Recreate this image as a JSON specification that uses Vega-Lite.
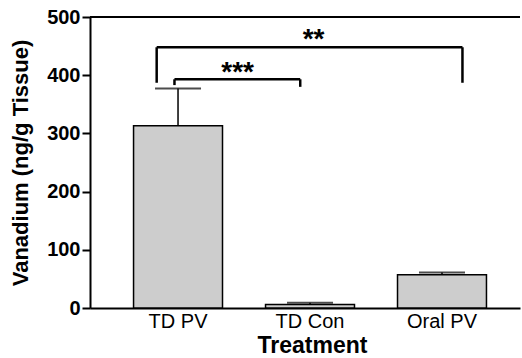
{
  "$schema": "https://vega.github.io/schema/vega-lite/v6.json",
  "autosize": {"type": "none"},
  "width": 430,
  "height": 291,
  "padding": {"left": 90, "top": 17, "right": 2, "bottom": 50},
  "background": "white",
  "config": {
    "view": {"stroke": null},
    "font": "Liberation Sans"
  },
  "datasets": {
    "bars": [
      {"treatment": "TD PV", "mean": 313, "upper": 377},
      {"treatment": "TD Con", "mean": 6, "upper": 9},
      {"treatment": "Oral PV", "mean": 57, "upper": 61}
    ]
  },
  "encoding": {
    "x": {
      "field": "treatment",
      "type": "nominal",
      "scale": {"domain": ["TD PV", "TD Con", "Oral PV"], "paddingInner": 0.326, "paddingOuter": 0.292, "align": 0.565},
      "axis": {
        "title": "Treatment",
        "titleFont": "Liberation Sans",
        "titleFontSize": 23,
        "titleFontWeight": "bold",
        "titleColor": "black",
        "titlePadding": 3,
        "titleX": 222,
        "labelFont": "Liberation Sans",
        "labelFontSize": 20,
        "labelColor": "black",
        "labelAngle": 0,
        "labelPadding": 3,
        "ticks": false,
        "domainColor": "black",
        "domainWidth": 2
      }
    }
  },
  "layer": [
    {
      "data": {"name": "bars"},
      "mark": {"type": "bar", "fill": "#cdcdcd", "stroke": "black", "strokeWidth": 1.5},
      "encoding": {
        "y": {
          "field": "mean",
          "type": "quantitative",
          "scale": {"domain": [0, 500], "nice": false},
          "axis": {
            "title": "Vanadium (ng/g Tissue)",
            "titleFont": "Liberation Sans",
            "titleFontSize": 22,
            "titleFontWeight": "bold",
            "titleColor": "black",
            "titlePadding": 14,
            "labelFont": "Liberation Sans",
            "labelFontSize": 20,
            "labelFontWeight": "bold",
            "labelColor": "black",
            "labelPadding": 2,
            "values": [0, 100, 200, 300, 400, 500],
            "tickSize": 8,
            "tickWidth": 2,
            "tickColor": "black",
            "domainColor": "black",
            "domainWidth": 2,
            "grid": false
          }
        }
      }
    },
    {
      "data": {"name": "bars"},
      "mark": {"type": "rule", "color": "black", "strokeWidth": 1.5},
      "encoding": {
        "y": {"field": "mean", "type": "quantitative"},
        "y2": {"field": "upper"}
      }
    },
    {
      "data": {"name": "bars"},
      "mark": {"type": "tick", "color": "black", "orient": "horizontal", "size": 46, "thickness": 2},
      "encoding": {
        "y": {"field": "upper", "type": "quantitative"}
      }
    },
    {
      "data": {"values": [{"y": 500}]},
      "mark": {"type": "rule", "color": "black", "strokeWidth": 2},
      "encoding": {"y": {"field": "y", "type": "quantitative"}, "x": null}
    },
    {
      "data": {"values": [{"from": "TD PV", "to": "Oral PV", "y": 448}]},
      "mark": {"type": "rule", "color": "black", "strokeWidth": 2.5},
      "encoding": {
        "x": {"field": "from", "type": "nominal", "bandPosition": 0.26},
        "x2": {"field": "to", "bandPosition": 0.73},
        "y": {"field": "y", "type": "quantitative"}
      }
    },
    {
      "data": {"values": [{"from": "TD PV", "to": "TD Con", "y": 393}]},
      "mark": {"type": "rule", "color": "black", "strokeWidth": 2.5},
      "encoding": {
        "x": {"field": "from", "type": "nominal", "bandPosition": 0.46},
        "x2": {"field": "to", "bandPosition": 0.39},
        "y": {"field": "y", "type": "quantitative"}
      }
    },
    {
      "data": {"values": [{"at": "TD PV", "top": 448, "bottom": 387}]},
      "mark": {"type": "rule", "color": "black", "strokeWidth": 2.5},
      "encoding": {
        "x": {"field": "at", "type": "nominal", "bandPosition": 0.26},
        "y": {"field": "top", "type": "quantitative"},
        "y2": {"field": "bottom"}
      }
    },
    {
      "data": {"values": [{"at": "Oral PV", "top": 448, "bottom": 387}]},
      "mark": {"type": "rule", "color": "black", "strokeWidth": 2.5},
      "encoding": {
        "x": {"field": "at", "type": "nominal", "bandPosition": 0.73},
        "y": {"field": "top", "type": "quantitative"},
        "y2": {"field": "bottom"}
      }
    },
    {
      "data": {"values": [{"at": "TD PV", "top": 393, "bottom": 383}]},
      "mark": {"type": "rule", "color": "black", "strokeWidth": 2.5},
      "encoding": {
        "x": {"field": "at", "type": "nominal", "bandPosition": 0.46},
        "y": {"field": "top", "type": "quantitative"},
        "y2": {"field": "bottom"}
      }
    },
    {
      "data": {"values": [{"at": "TD Con", "top": 393, "bottom": 380}]},
      "mark": {"type": "rule", "color": "black", "strokeWidth": 2.5},
      "encoding": {
        "x": {"field": "at", "type": "nominal", "bandPosition": 0.39},
        "y": {"field": "top", "type": "quantitative"},
        "y2": {"field": "bottom"}
      }
    },
    {
      "data": {"values": [{"at": "TD Con", "label": "**", "y": 460}]},
      "mark": {"type": "text", "font": "Liberation Sans", "fontSize": 28, "fontWeight": "bold", "color": "black", "baseline": "middle"},
      "encoding": {
        "x": {"field": "at", "type": "nominal", "bandPosition": 0.54},
        "y": {"field": "y", "type": "quantitative"},
        "text": {"field": "label"}
      }
    },
    {
      "data": {"values": [{"at": "TD PV", "label": "***", "y": 403}]},
      "mark": {"type": "text", "font": "Liberation Sans", "fontSize": 28, "fontWeight": "bold", "color": "black", "baseline": "middle"},
      "encoding": {
        "x": {"field": "at", "type": "nominal", "bandPosition": 1.17},
        "y": {"field": "y", "type": "quantitative"},
        "text": {"field": "label"}
      }
    }
  ]
}
